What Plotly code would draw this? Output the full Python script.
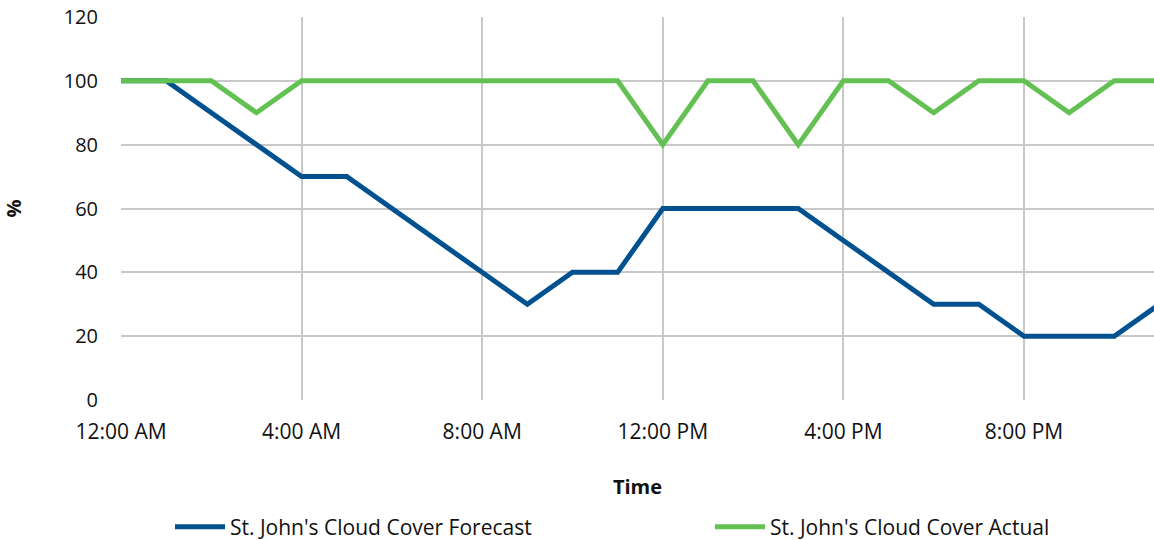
import plotly.graph_objects as go

# Hourly observations, hour 0 = 12:00 AM
hours = list(range(24))
forecast = [100, 100, 90, 80, 70, 70, 60, 50, 40, 30, 40, 40,
            60, 60, 60, 60, 50, 40, 30, 30, 20, 20, 20, 30]
actual = [100, 100, 100, 90, 100, 100, 100, 100, 100, 100, 100, 100,
          80, 100, 100, 80, 100, 100, 90, 100, 100, 90, 100, 100]

tick_hours = [0, 4, 8, 12, 16, 20]
tick_labels = ["12:00 AM", "4:00 AM", "8:00 AM", "12:00 PM", "4:00 PM", "8:00 PM"]

FONT = "Open Sans, Noto Sans, sans-serif"
BLUE = "#00518F"
GREEN = "#62C152"

fig = go.Figure()
fig.add_trace(go.Scatter(x=hours, y=forecast, mode="lines",
                         name="St. John's Cloud Cover Forecast",
                         line=dict(color=BLUE, width=5), legend="legend"))
fig.add_trace(go.Scatter(x=hours, y=actual, mode="lines",
                         name="St. John's Cloud Cover Actual",
                         line=dict(color=GREEN, width=5), legend="legend2"))

legend_style = dict(orientation="h", xref="container", yref="container",
                    xanchor="left", yanchor="middle",
                    font=dict(size=21), itemwidth=50,
                    bgcolor="rgba(0,0,0,0)")

fig.update_layout(
    width=1154, height=540,
    margin=dict(l=121, r=0, t=17, b=140),
    plot_bgcolor="white", paper_bgcolor="white",
    font=dict(family=FONT, size=20, color="#111111"),
    xaxis=dict(
        range=[0, 22.88],
        tickvals=tick_hours, ticktext=tick_labels,
        showgrid=True, gridcolor="#C8C8C8", gridwidth=1.5,
        zeroline=False, showline=False, ticks="",
        ticklabelstandoff=17,
        tickfont=dict(size=21),
        title=dict(text="<b>Time</b>", font=dict(size=20), standoff=35),
    ),
    yaxis=dict(
        range=[0, 120], dtick=20,
        showgrid=True, gridcolor="#C8C8C8", gridwidth=1.5,
        zeroline=False, showline=False, ticks="",
        ticklabelstandoff=22,
        tickfont=dict(size=20),
        title=dict(text="<b>%</b>", font=dict(size=20), standoff=38),
    ),
    legend=dict(legend_style, x=170 / 1154, y=13 / 540),
    legend2=dict(legend_style, x=710 / 1154, y=13 / 540),
    showlegend=True,
)

fig.write_html("out.html")
